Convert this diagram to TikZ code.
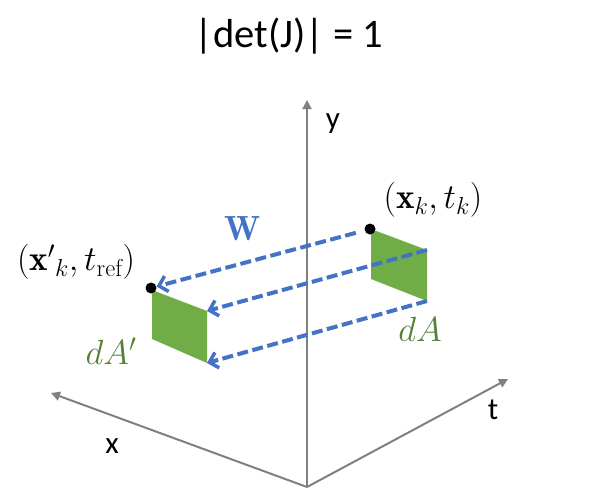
\RequirePackage{fix-cm}
\documentclass[tikz,border=0pt]{standalone}
\usepackage{amsmath}
\usepackage{fontspec}
\setsansfont{Carlito}
\usetikzlibrary{arrows.meta}
\definecolor{warpblue}{HTML}{4472C4}
\definecolor{patchgreen}{HTML}{70AD47}
\definecolor{labelgreen}{HTML}{548235}
\definecolor{axisgray}{HTML}{808080}
\tikzset{
  axis/.style={axisgray, line width=2pt, -{Triangle[length=9pt,width=9pt]}},
  warp/.style={warpblue, line width=4pt, dash pattern=on 11pt off 4.5pt,
    -{Straight Barb[length=8pt,width=16pt,line width=3.5pt]}},
  patch/.style={patchgreen},
  corner/.style={circle, fill=black, inner sep=0pt, minimum size=11pt},
  axislabel/.style={font=\sffamily\fontsize{31}{35}\selectfont},
  mathlabel/.style={font=\fontsize{35}{40}\selectfont}
}
\begin{document}
\begin{tikzpicture}[x=1pt,y=-1pt]
        \useasboundingbox (0,0) rectangle (598,501);
        % Title
        \node[font=\sffamily\fontsize{40.5}{46}\selectfont] (title) at (289,36) {|det(J)| = 1};

        % Draw axes
        \coordinate (o) at (307,487);
        \coordinate (ytip) at (307,100);
        \coordinate (xtip) at (51,393);
        \coordinate (ttip) at (508,379);
        \draw[axis] (o) -- (ytip);
        \draw[axis] (o) -- (xtip);
        \draw[axis] (o) -- (ttip);
        \node[axislabel] (ylab) at (333,124) {y};
        \node[axislabel] (xlab) at (112,446) {x};
        \node[axislabel] (tlab) at (493,410) {t};

        % Draw area elements
        \foreach \n/\p in {1/{371,229},2/{427,250},3/{427,301},4/{371,279}} {
            \coordinate (r\n) at (\p);
        }
        \foreach \n/\p in {1/{152,290},2/{207,311},3/{207,363},4/{152,339}} {
            \coordinate (l\n) at (\p);
        }
        \fill[patch] (r1) -- (r2) -- (r3) -- (r4) -- cycle;
        \fill[patch] (l1) -- (l2) -- (l3) -- (l4) -- cycle;
        \node[corner] (pk) at (370,229) {};
        \node[corner] (pref) at (151,288) {};

        % Draw warp W
        \draw[warp, shorten <=9pt] (pk) -- (pref);
        \draw[warp] (r2) -- (l2);
        \draw[warp] (r3) -- (l3);
        \node[mathlabel, warpblue] (w) at (243,229) {$\mathbf{W}$};

        % Labels
        \node[mathlabel] (lk) at (433,200) {$(\mathbf{x}_k, t_k)$};
        \node[mathlabel] (lref) at (76,262) {$({\mathbf{x}'}_k, t_{\mathrm{ref}})$};
        \node[mathlabel, labelgreen] (da) at (420,329) {$dA$};
        \node[mathlabel, labelgreen] (dap) at (111,351) {$dA'$};
    \end{tikzpicture}
\end{document}
